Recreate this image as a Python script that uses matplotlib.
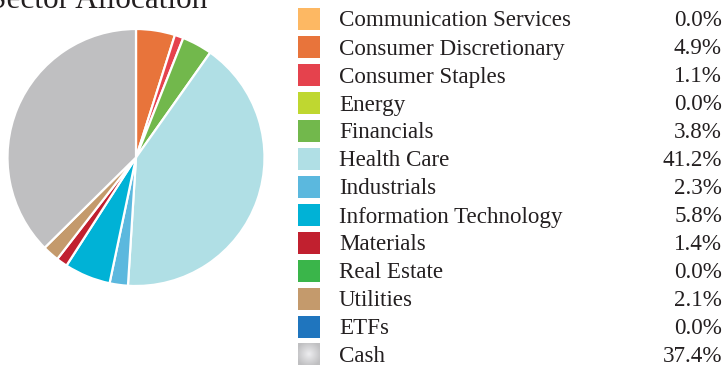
import matplotlib
matplotlib.use("Agg")
import matplotlib.pyplot as plt
import numpy as np

sectors = ["Communication Services", "Consumer Discretionary", "Consumer Staples",
           "Energy", "Financials", "Health Care", "Industrials",
           "Information Technology", "Materials", "Real Estate", "Utilities",
           "ETFs", "Cash"]
weights = [0.0, 4.9, 1.1, 0.0, 3.8, 41.2, 2.3, 5.8, 1.4, 0.0, 2.1, 0.0, 37.4]
colors = ["#FDB863", "#E8743B", "#E5424D", "#BFD730", "#72B84C", "#B0DFE5",
          "#5BB8DE", "#00B2D6", "#C1202F", "#3AB54A", "#C49A6C", "#1F75BE",
          "#BFBFC1"]
title = "Sector Allocation"

W, H = 724, 366
fig = plt.figure(figsize=(W / 100, H / 100), dpi=100)
ax = fig.add_axes([0, 0, 1, 1])
ax.set_aspect("equal")

serif = ["Liberation Serif", "DejaVu Serif"]
txt_color = "#231F20"

# pie of the non-zero sectors, clockwise from 12 o'clock
pie_vals = [w for w in weights if w > 0]
pie_cols = [c for w, c in zip(weights, colors) if w > 0]
ax.pie(pie_vals, colors=pie_cols, startangle=90, counterclock=False,
       center=(136, H - 157.5), radius=128.5, frame=True,
       wedgeprops=dict(edgecolor="white", linewidth=1.6))

ax.text(207, H - 8, title, fontsize=22.5, family=serif, color=txt_color,
        ha="right", va="baseline")

# legend rows
row0, step = 18.5, 28.0
sq = 22
for i, (name, w, c) in enumerate(zip(sectors, weights, colors)):
    yc = H - (row0 + i * step)
    if name == "Cash":
        # soft radial shading on the cash swatch
        g = np.linspace(-1, 1, 40)
        xx, yy = np.meshgrid(g, g)
        r = np.clip(np.sqrt(xx ** 2 + yy ** 2) / 1.2, 0, 1)
        base = np.array([0xBF, 0xBF, 0xC1]) / 255
        light = np.array([0.93, 0.93, 0.94])
        img = light[None, None, :] * (1 - r[..., None]) + base[None, None, :] * r[..., None]
        ax.imshow(img, extent=(298, 298 + sq, yc - sq / 2, yc + sq / 2),
                  interpolation="bilinear", zorder=2)
    else:
        ax.add_patch(plt.Rectangle((298, yc - sq / 2), sq, sq, facecolor=c,
                                   edgecolor="none", zorder=2))
    ax.text(339, yc, name, fontsize=16.6, family=serif, color=txt_color,
            ha="left", va="center_baseline")
    ax.text(722, yc, f"{w:.1f}%", fontsize=16.6, family=serif, color=txt_color,
            ha="right", va="center_baseline")

ax.set_xlim(0, W)
ax.set_ylim(0, H)
ax.axis("off")
fig.savefig("out.png", dpi=100)
